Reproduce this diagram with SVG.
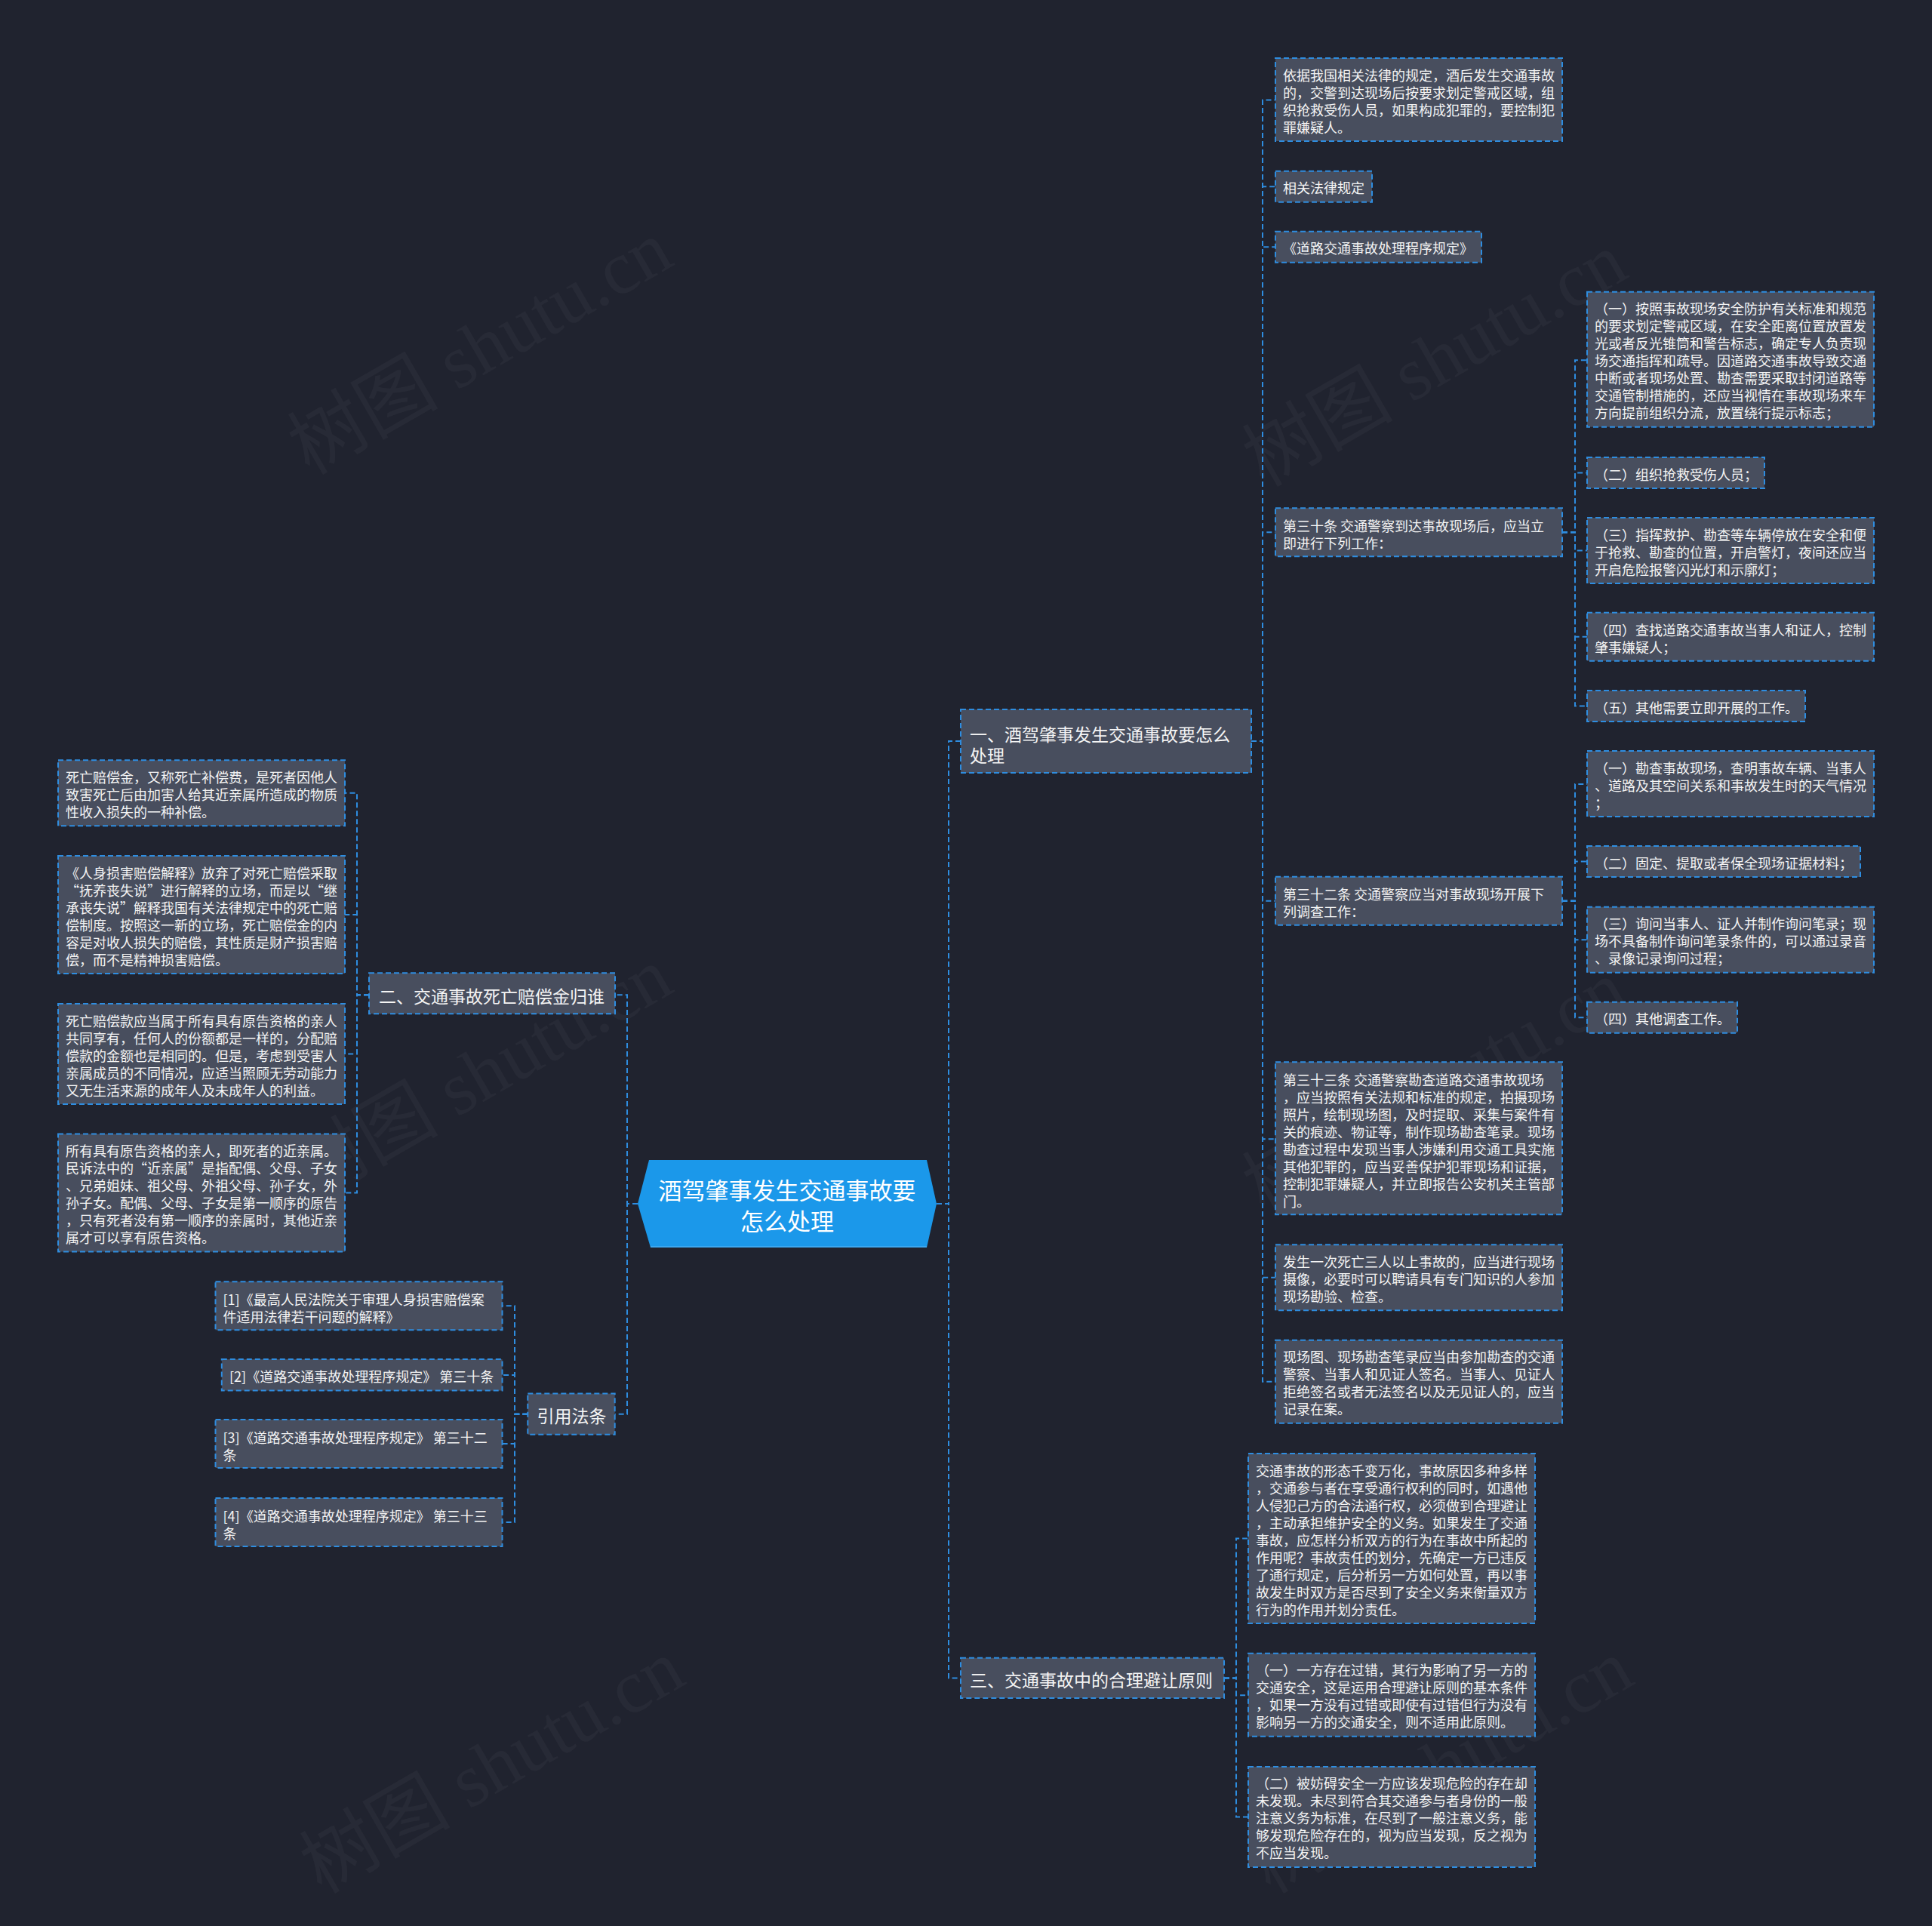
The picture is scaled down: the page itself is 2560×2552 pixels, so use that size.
<svg xmlns="http://www.w3.org/2000/svg" width="2560" height="2552" viewBox="0 0 2560 2552">
<defs>
<style>
.bg{fill:#20232f}
.box{fill:#484e5e;stroke:#2e8de0;stroke-width:2;stroke-dasharray:7 4}
.t{font-family:"Noto Sans CJK SC","Noto Sans",sans-serif;fill:#f4f4f4;dominant-baseline:central}
.s{font-size:18px}
.m{font-size:23px}
.c{font-size:31px;fill:#ffffff;text-anchor:middle}
.ln{fill:none;stroke:#2e8de0;stroke-width:2;stroke-dasharray:7 4}
.wm{font-family:"Liberation Serif","Noto Sans CJK SC",serif;font-size:100px;fill:#ffffff;fill-opacity:0.035}
</style>
</defs>
<rect class="bg" x="0" y="0" width="2560" height="2552"/>
<g id="watermarks">
<text class="wm" transform="translate(653,490) rotate(-30)" text-anchor="middle">树图 shutu.cn</text>
<text class="wm" transform="translate(1918,506) rotate(-30)" text-anchor="middle">树图 shutu.cn</text>
<text class="wm" transform="translate(653,1453) rotate(-30)" text-anchor="middle">树图 shutu.cn</text>
<text class="wm" transform="translate(1918,1470) rotate(-30)" text-anchor="middle">树图 shutu.cn</text>
<text class="wm" transform="translate(669,2370) rotate(-30)" text-anchor="middle">树图 shutu.cn</text>
<text class="wm" transform="translate(1926,2370) rotate(-30)" text-anchor="middle">树图 shutu.cn</text>
</g>
<g id="connectors">
<path class="ln" d="M1241,1595 H1257 V982 H1273"/>
<path class="ln" d="M1241,1595 H1257 V2223.4 H1273"/>
<path class="ln" d="M845,1595 H831 V1318.3 H815"/>
<path class="ln" d="M845,1595 H831 V1873.7 H815"/>
<path class="ln" d="M1658,982 H1673 V132.5 H1690"/>
<path class="ln" d="M1658,982 H1673 V247.2 H1690"/>
<path class="ln" d="M1658,982 H1673 V327.2 H1690"/>
<path class="ln" d="M1658,982 H1673 V705.3 H1690"/>
<path class="ln" d="M1658,982 H1673 V1193.7 H1690"/>
<path class="ln" d="M1658,982 H1673 V1509.3 H1690"/>
<path class="ln" d="M1658,982 H1673 V1692.8 H1690"/>
<path class="ln" d="M1658,982 H1673 V1830.7 H1690"/>
<path class="ln" d="M2070,705.3 H2087 V477.2 H2103"/>
<path class="ln" d="M2070,705.3 H2087 V626.5 H2103"/>
<path class="ln" d="M2070,705.3 H2087 V729.5 H2103"/>
<path class="ln" d="M2070,705.3 H2087 V843.7 H2103"/>
<path class="ln" d="M2070,705.3 H2087 V935.5 H2103"/>
<path class="ln" d="M2070,1193.7 H2087 V1039 H2103"/>
<path class="ln" d="M2070,1193.7 H2087 V1141.5 H2103"/>
<path class="ln" d="M2070,1193.7 H2087 V1245.2 H2103"/>
<path class="ln" d="M2070,1193.7 H2087 V1348.2 H2103"/>
<path class="ln" d="M1622,2223.4 H1638 V2038.5 H1654"/>
<path class="ln" d="M1622,2223.4 H1638 V2246.3 H1654"/>
<path class="ln" d="M1622,2223.4 H1638 V2407.4 H1654"/>
<path class="ln" d="M489,1318.3 H473 V1050.8 H457"/>
<path class="ln" d="M489,1318.3 H473 V1212 H457"/>
<path class="ln" d="M489,1318.3 H473 V1396.5 H457"/>
<path class="ln" d="M489,1318.3 H473 V1580.6 H457"/>
<path class="ln" d="M699.3,1873.7 H682 V1730.3 H665.5"/>
<path class="ln" d="M699.3,1873.7 H682 V1821.9 H665.5"/>
<path class="ln" d="M699.3,1873.7 H682 V1913 H665.5"/>
<path class="ln" d="M699.3,1873.7 H682 V2017 H665.5"/>
</g>
<g id="root">
<polygon points="845,1595 860,1537 1228,1537 1241,1595 1228,1653 862,1653" fill="#1b98ea"/>
<line x1="862" y1="1652" x2="1228" y2="1652" stroke="#3aa7f0" stroke-width="2"/>
<text class="t c"><tspan x="1043" y="1575">酒驾肇事发生交通事故要</tspan><tspan x="1043" y="1616">怎么处理</tspan></text>
</g>
<g id="n1">
<rect class="box" x="1273" y="940" width="385" height="84"/>
<text class="t m"><tspan x="1285" y="972">一、酒驾肇事发生交通事故要怎么</tspan><tspan x="1285" y="1000">处理</tspan></text>
</g>
<g id="n1-c1">
<rect class="box" x="1690" y="77" width="380" height="110"/>
<text class="t s"><tspan x="1700" y="98.5">依据我国相关法律的规定，酒后发生交通事故</tspan><tspan x="1700" y="121.5">的，交警到达现场后按要求划定警戒区域，组</tspan><tspan x="1700" y="144.5">织抢救受伤人员，如果构成犯罪的，要控制犯</tspan><tspan x="1700" y="167.5">罪嫌疑人。</tspan></text>
</g>
<g id="n1-c2">
<rect class="box" x="1690" y="226.7" width="128" height="41"/>
<text class="t s"><tspan x="1700" y="248">相关法律规定</tspan></text>
</g>
<g id="n1-c3">
<rect class="box" x="1690" y="306.7" width="273" height="41"/>
<text class="t s"><tspan x="1700" y="328">《道路交通事故处理程序规定》</tspan></text>
</g>
<g id="n1-c4">
<rect class="box" x="1690" y="673.3" width="380" height="64"/>
<text class="t s"><tspan x="1700" y="695.8">第三十条 交通警察到达事故现场后，应当立</tspan><tspan x="1700" y="718.8">即进行下列工作：</tspan></text>
</g>
<g id="n1-c4-a">
<rect class="box" x="2103" y="386.7" width="380" height="179"/>
<text class="t s"><tspan x="2113" y="408.2">（一）按照事故现场安全防护有关标准和规范</tspan><tspan x="2113" y="431.2">的要求划定警戒区域，在安全距离位置放置发</tspan><tspan x="2113" y="454.2">光或者反光锥筒和警告标志，确定专人负责现</tspan><tspan x="2113" y="477.2">场交通指挥和疏导。因道路交通事故导致交通</tspan><tspan x="2113" y="500.2">中断或者现场处置、勘查需要采取封闭道路等</tspan><tspan x="2113" y="523.2">交通管制措施的，还应当视情在事故现场来车</tspan><tspan x="2113" y="546.2">方向提前组织分流，放置绕行提示标志；</tspan></text>
</g>
<g id="n1-c4-b">
<rect class="box" x="2103" y="606" width="235" height="41"/>
<text class="t s"><tspan x="2113" y="627.5">（二）组织抢救受伤人员；</tspan></text>
</g>
<g id="n1-c4-c">
<rect class="box" x="2103" y="686" width="380" height="87"/>
<text class="t s"><tspan x="2113" y="707.5">（三）指挥救护、勘查等车辆停放在安全和便</tspan><tspan x="2113" y="730.5">于抢救、勘查的位置，开启警灯，夜间还应当</tspan><tspan x="2113" y="753.5">开启危险报警闪光灯和示廓灯；</tspan></text>
</g>
<g id="n1-c4-d">
<rect class="box" x="2103" y="811.7" width="380" height="64"/>
<text class="t s"><tspan x="2113" y="834.2">（四）查找道路交通事故当事人和证人，控制</tspan><tspan x="2113" y="857.2">肇事嫌疑人；</tspan></text>
</g>
<g id="n1-c4-e">
<rect class="box" x="2103" y="915" width="289" height="41"/>
<text class="t s"><tspan x="2113" y="936.5">（五）其他需要立即开展的工作。</tspan></text>
</g>
<g id="n1-c5">
<rect class="box" x="1690" y="1161.7" width="380" height="64"/>
<text class="t s"><tspan x="1700" y="1184.2">第三十二条 交通警察应当对事故现场开展下</tspan><tspan x="1700" y="1207.2">列调查工作：</tspan></text>
</g>
<g id="n1-c5-a">
<rect class="box" x="2103" y="995" width="380" height="87"/>
<text class="t s"><tspan x="2113" y="1016.5">（一）勘查事故现场，查明事故车辆、当事人</tspan><tspan x="2113" y="1039.5">、道路及其空间关系和事故发生时的天气情况</tspan><tspan x="2113" y="1062.5">；</tspan></text>
</g>
<g id="n1-c5-b">
<rect class="box" x="2103" y="1121" width="362" height="41"/>
<text class="t s"><tspan x="2113" y="1142.5">（二）固定、提取或者保全现场证据材料；</tspan></text>
</g>
<g id="n1-c5-c">
<rect class="box" x="2103" y="1201.7" width="380" height="87"/>
<text class="t s"><tspan x="2113" y="1223.2">（三）询问当事人、证人并制作询问笔录；现</tspan><tspan x="2113" y="1246.2">场不具备制作询问笔录条件的，可以通过录音</tspan><tspan x="2113" y="1269.2">、录像记录询问过程；</tspan></text>
</g>
<g id="n1-c5-d">
<rect class="box" x="2103" y="1327.7" width="199" height="41"/>
<text class="t s"><tspan x="2113" y="1349.2">（四）其他调查工作。</tspan></text>
</g>
<g id="n1-c6">
<rect class="box" x="1690" y="1407.3" width="380" height="202"/>
<text class="t s"><tspan x="1700" y="1429.8">第三十三条 交通警察勘查道路交通事故现场</tspan><tspan x="1700" y="1452.8">，应当按照有关法规和标准的规定，拍摄现场</tspan><tspan x="1700" y="1475.8">照片，绘制现场图，及时提取、采集与案件有</tspan><tspan x="1700" y="1498.8">关的痕迹、物证等，制作现场勘查笔录。现场</tspan><tspan x="1700" y="1521.8">勘查过程中发现当事人涉嫌利用交通工具实施</tspan><tspan x="1700" y="1544.8">其他犯罪的，应当妥善保护犯罪现场和证据，</tspan><tspan x="1700" y="1567.8">控制犯罪嫌疑人，并立即报告公安机关主管部</tspan><tspan x="1700" y="1590.8">门。</tspan></text>
</g>
<g id="n1-c7">
<rect class="box" x="1690" y="1649.3" width="380" height="87"/>
<text class="t s"><tspan x="1700" y="1670.8">发生一次死亡三人以上事故的，应当进行现场</tspan><tspan x="1700" y="1693.8">摄像，必要时可以聘请具有专门知识的人参加</tspan><tspan x="1700" y="1716.8">现场勘验、检查。</tspan></text>
</g>
<g id="n1-c8">
<rect class="box" x="1690" y="1775.7" width="380" height="110"/>
<text class="t s"><tspan x="1700" y="1797.2">现场图、现场勘查笔录应当由参加勘查的交通</tspan><tspan x="1700" y="1820.2">警察、当事人和见证人签名。当事人、见证人</tspan><tspan x="1700" y="1843.2">拒绝签名或者无法签名以及无见证人的，应当</tspan><tspan x="1700" y="1866.2">记录在案。</tspan></text>
</g>
<g id="n3">
<rect class="box" x="1273" y="2196.7" width="349" height="53.3"/>
<text class="t m"><tspan x="1285" y="2224.5">三、交通事故中的合理避让原则</tspan></text>
</g>
<g id="n3-a">
<rect class="box" x="1654" y="1926" width="380" height="225"/>
<text class="t s"><tspan x="1664" y="1947.5">交通事故的形态千变万化，事故原因多种多样</tspan><tspan x="1664" y="1970.5">，交通参与者在享受通行权利的同时，如遇他</tspan><tspan x="1664" y="1993.5">人侵犯己方的合法通行权，必须做到合理避让</tspan><tspan x="1664" y="2016.5">，主动承担维护安全的义务。如果发生了交通</tspan><tspan x="1664" y="2039.5">事故，应怎样分析双方的行为在事故中所起的</tspan><tspan x="1664" y="2062.5">作用呢？事故责任的划分，先确定一方已违反</tspan><tspan x="1664" y="2085.5">了通行规定，后分析另一方如何处置，再以事</tspan><tspan x="1664" y="2108.5">故发生时双方是否尽到了安全义务来衡量双方</tspan><tspan x="1664" y="2131.5">行为的作用并划分责任。</tspan></text>
</g>
<g id="n3-b">
<rect class="box" x="1654" y="2190.8" width="380" height="110"/>
<text class="t s"><tspan x="1664" y="2212.3">（一）一方存在过错，其行为影响了另一方的</tspan><tspan x="1664" y="2235.3">交通安全，这是运用合理避让原则的基本条件</tspan><tspan x="1664" y="2258.3">，如果一方没有过错或即使有过错但行为没有</tspan><tspan x="1664" y="2281.3">影响另一方的交通安全，则不适用此原则。</tspan></text>
</g>
<g id="n3-c">
<rect class="box" x="1654" y="2340.9" width="380" height="133"/>
<text class="t s"><tspan x="1664" y="2362.4">（二）被妨碍安全一方应该发现危险的存在却</tspan><tspan x="1664" y="2385.4">未发现。未尽到符合其交通参与者身份的一般</tspan><tspan x="1664" y="2408.4">注意义务为标准，在尽到了一般注意义务，能</tspan><tspan x="1664" y="2431.4">够发现危险存在的，视为应当发现，反之视为</tspan><tspan x="1664" y="2454.4">不应当发现。</tspan></text>
</g>
<g id="n2">
<rect class="box" x="489" y="1289.3" width="326" height="54"/>
<text class="t m"><tspan x="502" y="1318.5">二、交通事故死亡赔偿金归谁</tspan></text>
</g>
<g id="n2-a">
<rect class="box" x="77" y="1007.3" width="380" height="87"/>
<text class="t s"><tspan x="87" y="1028.8">死亡赔偿金，又称死亡补偿费，是死者因他人</tspan><tspan x="87" y="1051.8">致害死亡后由加害人给其近亲属所造成的物质</tspan><tspan x="87" y="1074.8">性收入损失的一种补偿。</tspan></text>
</g>
<g id="n2-b">
<rect class="box" x="77" y="1134" width="380" height="156"/>
<text class="t s"><tspan x="87" y="1155.5">《人身损害赔偿解释》放弃了对死亡赔偿采取</tspan><tspan x="87" y="1178.5">“抚养丧失说”进行解释的立场，而是以“继</tspan><tspan x="87" y="1201.5">承丧失说”解释我国有关法律规定中的死亡赔</tspan><tspan x="87" y="1224.5">偿制度。按照这一新的立场，死亡赔偿金的内</tspan><tspan x="87" y="1247.5">容是对收人损失的赔偿，其性质是财产损害赔</tspan><tspan x="87" y="1270.5">偿，而不是精神损害赔偿。</tspan></text>
</g>
<g id="n2-c">
<rect class="box" x="77" y="1330" width="380" height="133"/>
<text class="t s"><tspan x="87" y="1351.5">死亡赔偿款应当属于所有具有原告资格的亲人</tspan><tspan x="87" y="1374.5">共同享有，任何人的份额都是一样的，分配赔</tspan><tspan x="87" y="1397.5">偿款的金额也是相同的。但是，考虑到受害人</tspan><tspan x="87" y="1420.5">亲属成员的不同情况，应适当照顾无劳动能力</tspan><tspan x="87" y="1443.5">又无生活来源的成年人及未成年人的利益。</tspan></text>
</g>
<g id="n2-d">
<rect class="box" x="77" y="1502.6" width="380" height="156"/>
<text class="t s"><tspan x="87" y="1524.1">所有具有原告资格的亲人，即死者的近亲属。</tspan><tspan x="87" y="1547.1">民诉法中的“近亲属”是指配偶、父母、子女</tspan><tspan x="87" y="1570.1">、兄弟姐妹、祖父母、外祖父母、孙子女，外</tspan><tspan x="87" y="1593.1">孙子女。配偶、父母、子女是第一顺序的原告</tspan><tspan x="87" y="1616.1">，只有死者没有第一顺序的亲属时，其他近亲</tspan><tspan x="87" y="1639.1">属才可以享有原告资格。</tspan></text>
</g>
<g id="n4">
<rect class="box" x="699.3" y="1846.6" width="115.4" height="54.2"/>
<text class="t m"><tspan x="711.5" y="1874.5">引用法条</tspan></text>
</g>
<g id="n4-a">
<rect class="box" x="285.5" y="1698.3" width="380" height="64"/>
<text class="t s"><tspan x="295.5" y="1720.8">[1]《最高人民法院关于审理人身损害赔偿案</tspan><tspan x="295.5" y="1743.8">件适用法律若干问题的解释》</tspan></text>
</g>
<g id="n4-b">
<rect class="box" x="293.8" y="1801.1" width="371.7" height="41.5"/>
<text class="t s"><tspan x="304" y="1822.8">[2]《道路交通事故处理程序规定》 第三十条</tspan></text>
</g>
<g id="n4-c">
<rect class="box" x="285.5" y="1881" width="380" height="64"/>
<text class="t s"><tspan x="295.5" y="1903.5">[3]《道路交通事故处理程序规定》 第三十二</tspan><tspan x="295.5" y="1926.5">条</tspan></text>
</g>
<g id="n4-d">
<rect class="box" x="285.5" y="1985" width="380" height="64"/>
<text class="t s"><tspan x="295.5" y="2007.5">[4]《道路交通事故处理程序规定》 第三十三</tspan><tspan x="295.5" y="2030.5">条</tspan></text>
</g>
</svg>
